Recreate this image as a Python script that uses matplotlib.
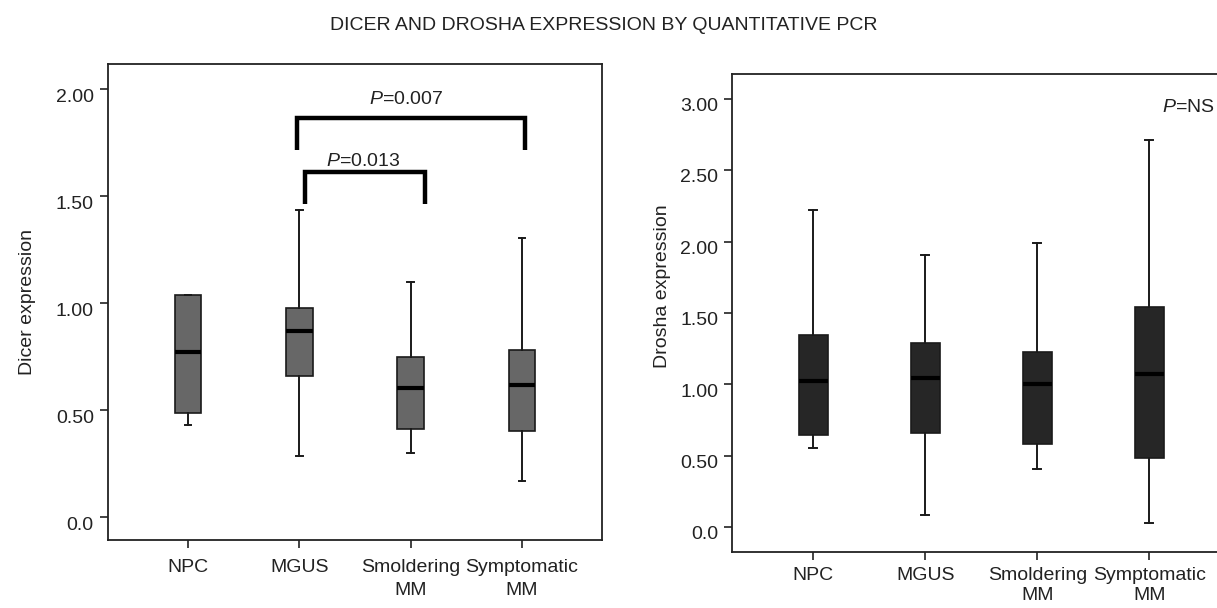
import matplotlib
matplotlib.use("Agg")
import matplotlib.pyplot as plt
import matplotlib.transforms as mtransforms

# no narrow font installed, so a smaller Liberation Sans gives the same widths
plt.rcParams['font.family'] = ['Liberation Sans', 'DejaVu Sans']
plt.rcParams['mathtext.fontset'] = 'custom'
plt.rcParams['mathtext.rm'] = 'Liberation Sans'
plt.rcParams['mathtext.it'] = 'Liberation Sans:italic'
FS = 14

groups = ["NPC", "MGUS", "Smoldering\nMM", "Symptomatic\nMM"]

# Dicer expression
dicer_q1     = [0.485, 0.658, 0.409, 0.402]
dicer_med    = [0.771, 0.867, 0.602, 0.614]
dicer_q3     = [1.036, 0.974, 0.747, 0.781]
dicer_whislo = [0.431, 0.284, 0.298, 0.169]
dicer_whishi = [1.036, 1.434, 1.096, 1.303]

# Drosha expression
drosha_q1     = [0.644, 0.657, 0.586, 0.484]
drosha_med    = [1.025, 1.045, 1.004, 1.075]
drosha_q3     = [1.344, 1.293, 1.225, 1.545]
drosha_whislo = [0.558, 0.084, 0.406, 0.033]
drosha_whishi = [2.219, 1.905, 1.991, 2.709]

dicer_ticks = [0.0, 0.5, 1.0, 1.5, 2.0]
dicer_ticklabels = ["0.0", "0.50", "1.00", "1.50", "2.00"]
drosha_ticks = [0.0, 0.5, 1.0, 1.5, 2.0, 2.5, 3.0]
drosha_ticklabels = ["0.0", "0.50", "1.00", "1.50", "2.00", "2.50", "3.00"]

# significance brackets on dicer: (x left, x right, top, leg bottom, label, label x, label y)
brackets = [
    (1.98, 4.03, 1.865, 1.713, r"$\mathit{P}$=0.007", 2.96, 1.95),
    (2.05, 3.13, 1.611, 1.464, r"$\mathit{P}$=0.013", 2.57, 1.66),
]


def make_stats(q1, med, q3, lo, hi):
    out = []
    for i in range(len(q1)):
        out.append(dict(q1=q1[i], med=med[i], q3=q3[i],
                        whislo=lo[i], whishi=hi[i], fliers=[]))
    return out


def draw_box(ax, stats, color, width, capw):
    pos = list(range(1, len(stats) + 1))
    ax.bxp(stats, positions=pos, widths=width, patch_artist=True,
           showfliers=False, capwidths=capw,
           boxprops=dict(facecolor=color, edgecolor="#1a1a1a", linewidth=1.2),
           medianprops=dict(color="black", linewidth=3),
           whiskerprops=dict(color="#1a1a1a", linewidth=1.4),
           capprops=dict(color="#1a1a1a", linewidth=1.4))


def style_axes(ax, ticks, ticklabels, ylabel, lab_shift, xpad, lsp):
    ax.set_xticks(range(1, len(groups) + 1))
    ax.set_xticklabels(groups, fontsize=FS, color="#222222", linespacing=lsp)
    ax.set_yticks(ticks)
    ax.set_yticklabels(ticklabels, fontsize=FS, color="#222222")
    ax.set_ylabel(ylabel, fontsize=FS, color="#222222")
    ax.tick_params(axis="both", direction="out", length=6, width=1.2, color="#222222")
    ax.tick_params(axis="x", pad=xpad)
    ax.tick_params(axis="y", pad=4)
    for s in ax.spines.values():
        s.set_linewidth(1.3)
        s.set_color("#222222")
    # tick labels sit a bit below their ticks in the original
    off = mtransforms.ScaledTranslation(0, -lab_shift / 72.0, ax.figure.dpi_scale_trans)
    for lab in ax.get_yticklabels():
        lab.set_transform(lab.get_transform() + off)


fig = plt.figure(figsize=(12.17, 6.08), dpi=100)

ax1 = fig.add_axes([0.0885, 0.1118, 0.4062, 0.7824])
draw_box(ax1, make_stats(dicer_q1, dicer_med, dicer_q3, dicer_whislo, dicer_whishi),
         "#676767", 0.24, 0.06)
ax1.set_xlim(0.277, 4.72)
ax1.set_ylim(-0.109, 2.115)
style_axes(ax1, dicer_ticks, dicer_ticklabels, "Dicer expression", 5, 8, 1.4)
ax1.yaxis.set_label_coords(-0.145, 0.5)

for x0, x1, top, bot, txt, tx, ty in brackets:
    ax1.plot([x0, x0, x1, x1], [bot, top, top, bot], color="black",
             linewidth=3.2, solid_joinstyle="miter", solid_capstyle="butt")
    ax1.text(tx, ty, txt, ha="center", va="center", fontsize=FS, color="#222222")

ax2 = fig.add_axes([0.6017, 0.0926, 0.4089, 0.7857])
draw_box(ax2, make_stats(drosha_q1, drosha_med, drosha_q3, drosha_whislo, drosha_whishi),
         "#262626", 0.26, 0.07)
ax2.set_xlim(0.277, 4.72)
ax2.set_ylim(-0.170, 3.172)
style_axes(ax2, drosha_ticks, drosha_ticklabels, "Drosha expression", 4, 5, 1.25)
ax2.yaxis.set_label_coords(-0.123, 0.556)
ax2.text(4.58, 2.94, r"$\mathit{P}$=NS", ha="right", va="center", fontsize=FS, color="#222222")

fig.text(0.496, 0.958, "DICER AND DROSHA EXPRESSION BY QUANTITATIVE PCR",
         ha="center", va="center", fontsize=FS, color="#222222")

fig.savefig("out.png", dpi=100)
